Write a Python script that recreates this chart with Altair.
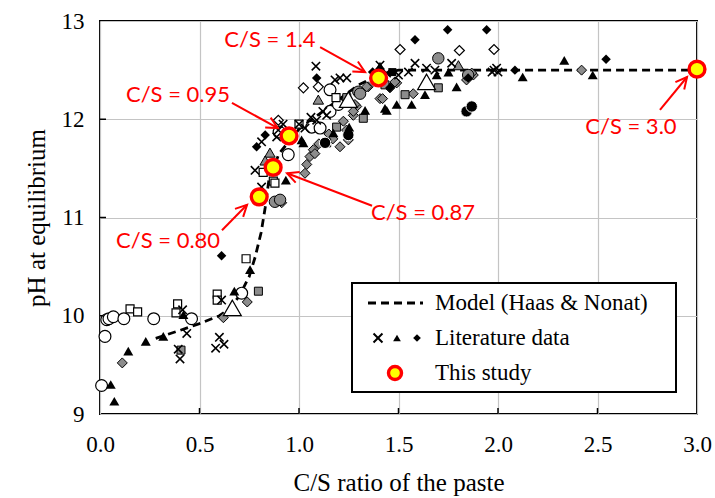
import math
import altair as alt
import pandas as pd

W, H = 597, 393

# ---------------- data ----------------
model_x = [0.28, 0.40, 0.50, 0.60, 0.65, 0.70, 0.75, 0.78, 0.81, 0.83, 0.85, 0.90, 1.00, 1.10, 1.20, 1.30, 1.40, 1.50, 2.00, 3.00]
model_y = [9.77, 9.85, 9.92, 10.00, 10.07, 10.20, 10.40, 10.60, 10.85, 11.10, 11.40, 11.65, 11.90, 12.05, 12.20, 12.35, 12.45, 12.50, 12.50, 12.50]

cross_x = [0.436, 0.393, 0.402, 0.600, 0.581, 0.623, 0.415, 0.611, 0.779, 0.812, 0.812, 0.888, 0.896, 1.030, 1.089, 1.139, 1.085, 1.181, 1.206, 1.240, 1.407, 1.583, 1.641, 1.767, 1.550, 1.683, 1.980, 1.993, 2.000, 1.970, 0.920, 1.000, 1.060, 1.120, 1.440, 1.500]
cross_y = [9.82, 9.66, 9.56, 9.78, 9.67, 9.71, 10.06, 10.16, 11.48, 11.31, 11.77, 11.82, 11.89, 11.91, 11.99, 12.04, 12.54, 12.40, 12.42, 12.42, 12.55, 12.57, 12.52, 12.57, 12.48, 12.50, 12.50, 12.52, 12.48, 12.48, 11.95, 11.95, 12.02, 12.08, 12.47, 12.45]

tri_x = [0.054, 0.072, 0.142, 0.230, 0.318, 0.419, 0.675, 0.754, 0.934, 1.013, 1.022, 1.173, 1.252, 1.407, 1.432, 1.692, 1.792, 1.633, 1.566, 1.491, 1.441, 1.332, 1.751, 2.124, 2.333, 2.476]
tri_y = [9.30, 9.13, 9.64, 9.74, 9.79, 10.01, 10.25, 10.47, 11.38, 11.79, 11.76, 11.86, 11.92, 12.54, 12.11, 12.45, 12.33, 12.25, 12.15, 12.15, 12.09, 12.09, 12.48, 12.43, 12.60, 12.45]

bdia_x = [0.611, 0.787, 1.089, 1.583, 1.747, 1.457, 1.850, 1.943, 2.085, 2.543, 0.830, 1.370]
bdia_y = [10.61, 11.72, 12.42, 12.81, 12.91, 12.32, 12.42, 12.91, 12.50, 12.61, 11.84, 12.48]

odia_x = [1.022, 1.097, 0.896, 1.508, 1.806, 1.980]
odia_y = [12.32, 12.33, 11.99, 12.71, 12.70, 12.71]

gdia_x = [0.112, 0.620, 0.740, 0.888, 0.913, 1.030, 1.039, 1.055, 1.072, 1.080, 1.223, 1.239, 1.273, 1.290, 1.206, 1.248, 1.491, 1.457, 1.574, 1.348, 1.407, 1.281, 1.273, 1.876, 1.842, 1.868, 2.420, 1.482, 1.420, 1.340, 1.150, 1.170, 1.100]
gdia_y = [9.52, 9.98, 10.14, 11.16, 11.15, 11.45, 11.54, 11.62, 11.69, 11.65, 11.98, 11.89, 12.04, 12.13, 11.72, 11.79, 12.37, 12.32, 12.26, 12.33, 12.21, 12.15, 12.08, 12.45, 12.40, 12.47, 12.50, 12.38, 12.21, 12.33, 11.85, 11.80, 11.75]

gcir_x = [1.298, 1.700, 1.307, 0.879, 0.905, 1.850]
gcir_y = [12.28, 12.62, 12.26, 11.16, 11.18, 12.45]

bcir_x = [1.131, 1.248, 1.842, 1.868]
bcir_y = [11.76, 11.84, 12.08, 12.13]

ocir_x = [0.008, 0.025, 0.034, 0.045, 0.067, 0.120, 0.270, 0.460, 0.712, 0.946, 1.156, 1.198, 1.064, 1.106, 1.156, 0.900]
ocir_y = [9.29, 9.79, 9.96, 9.97, 9.99, 9.97, 9.97, 9.97, 10.23, 11.64, 12.08, 12.15, 11.92, 11.91, 12.30, 11.87]

osq_x = [0.151, 0.189, 0.390, 0.382, 0.589, 0.589, 0.734, 0.871, 0.879, 0.820, 1.186, 1.000]
osq_y = [10.07, 10.04, 10.12, 10.03, 10.22, 10.16, 10.58, 11.37, 11.35, 11.46, 12.22, 11.95]

gsq_x = [0.407, 0.796, 1.189, 1.139, 1.700, 1.533, 1.323, 1.432, 1.240]
gsq_y = [9.65, 10.25, 11.92, 11.76, 12.32, 12.25, 12.01, 12.35, 12.22]

bsq_x = [1.469]
bsq_y = [12.48]

gtri_x = [1.097, 0.854, 1.801, 0.830]
gtri_y = [12.20, 11.66, 12.55, 11.58]

otri_x = [0.665, 1.641, 1.248]
otri_y = [10.08, 12.38, 12.20]

study_x = [0.80, 0.87, 0.95, 1.40, 3.00]
study_y = [11.21, 11.51, 11.83, 12.42, 12.51]

ann_text = ["C/S = 0.80", "C/S = 0.87", "C/S = 0.95", "C/S = 1.4", "C/S = 3.0"]
ann_tx = [0.342, 1.623, 0.392, 0.854, 2.668]
ann_ty = [10.76, 11.05, 12.25, 12.81, 11.92]
arr_x0 = [0.613, 1.367, 0.663, 1.106, 2.814]
arr_y0 = [10.87, 11.12, 12.166, 12.735, 12.095]
arr_x1 = [0.739, 0.940, 0.894, 1.332, 2.950]
arr_y1 = [11.13, 11.45, 11.91, 12.48, 12.43]

x_ticks = [0.0, 0.5, 1.0, 1.5, 2.0, 2.5, 3.0]
y_ticks = [9, 10, 11, 12, 13]

legend_labels = ["Model (Haas & Nonat)", "Literature data", "This study"]

# ---------------- scales ----------------
xs = alt.Scale(domain=[0, 3], nice=False, zero=False)
ys = alt.Scale(domain=[9, 13], nice=False, zero=False)

X = lambda: alt.X("x:Q", scale=xs, axis=alt.Axis(values=x_ticks, format=".1f", title="C/S ratio of the paste"))
Y = lambda: alt.Y("y:Q", scale=ys, axis=alt.Axis(values=y_ticks, format="d", title="pH at equilibrium"))

layers = []

# inner ticks
tick_df_x = pd.DataFrame({"x": x_ticks[1:-1]})
tick_df_y = pd.DataFrame({"y": y_ticks[1:-1]})
layers.append(alt.Chart(tick_df_x).mark_rule(color="black", strokeWidth=1.5).encode(
    x=alt.X("x:Q", scale=xs), y=alt.value(H), y2=alt.value(H - 6)))
layers.append(alt.Chart(tick_df_y).mark_rule(color="black", strokeWidth=1.5).encode(
    y=alt.Y("y:Q", scale=ys), x=alt.value(0), x2=alt.value(6)))

# model line
model_df = pd.DataFrame({"x": model_x, "y": model_y})
layers.append(alt.Chart(model_df).mark_line(color="black", strokeWidth=2.8, strokeDash=[8, 5]).encode(x=X(), y=Y()))

CROSS = "M-1,-1L1,1M-1,1L1,-1"

styles = [
    (gdia_x, gdia_y, dict(shape="diamond", filled=True, fill="#8c8c8c", stroke="black", strokeWidth=1, size=100, opacity=1)),
    (gsq_x, gsq_y, dict(shape="square", filled=True, fill="#8c8c8c", stroke="black", strokeWidth=1, size=64, opacity=1)),
    (gcir_x, gcir_y, dict(shape="circle", filled=True, fill="#8c8c8c", stroke="black", strokeWidth=1, size=130, opacity=1)),
    (ocir_x, ocir_y, dict(shape="circle", filled=True, fill="white", stroke="black", strokeWidth=1.2, size=140, opacity=1)),
    (osq_x, osq_y, dict(shape="square", filled=True, fill="white", stroke="black", strokeWidth=1.2, size=64, opacity=1)),
    (odia_x, odia_y, dict(shape="diamond", filled=True, fill="white", stroke="black", strokeWidth=1.2, size=100, opacity=1)),
    (otri_x, otri_y, dict(shape="triangle-up", filled=True, fill="white", stroke="black", strokeWidth=1.2, size=320, opacity=1)),
    (gtri_x, gtri_y, dict(shape="triangle-up", filled=True, fill="#8c8c8c", stroke="black", strokeWidth=1, size=110, opacity=1)),
    (bcir_x, bcir_y, dict(shape="circle", filled=True, fill="black", stroke="white", strokeWidth=1, size=130, opacity=1)),
    (bsq_x, bsq_y, dict(shape="square", filled=True, fill="black", stroke="black", strokeWidth=0, size=64, opacity=1)),
    (bdia_x, bdia_y, dict(shape="diamond", filled=True, fill="black", stroke="black", strokeWidth=0, size=90, opacity=1)),
    (tri_x, tri_y, dict(shape="triangle-up", filled=True, fill="black", stroke="black", strokeWidth=0, size=100, opacity=1)),
    (cross_x, cross_y, dict(shape=CROSS, filled=False, stroke="black", strokeWidth=1.6, size=70, opacity=1)),
]
for sx, sy, st in styles:
    df = pd.DataFrame({"x": sx, "y": sy})
    layers.append(alt.Chart(df).mark_point(**st).encode(x=X(), y=Y()))

# arrows
ang = []
for a, b, c, d in zip(arr_x0, arr_y0, arr_x1, arr_y1):
    dx = (c - a) * W / 3.0
    dy = -(d - b) * H / 4.0
    ang.append(math.degrees(math.atan2(dy, dx)) % 360)
arr_df = pd.DataFrame({"x": arr_x0, "y": arr_y0, "x2": arr_x1, "y2": arr_y1, "ang": ang})
layers.append(alt.Chart(arr_df).mark_rule(color="#ff0000", strokeWidth=2).encode(
    x=X(), y=Y(), x2="x2:Q", y2="y2:Q"))
layers.append(alt.Chart(arr_df).mark_point(shape="M-1,-0.5L0,0L-1,0.5", filled=False, stroke="#ff0000",
                                           strokeWidth=2, size=520, opacity=1, strokeJoin="miter").encode(
    x=alt.X("x2:Q", scale=xs), y=alt.Y("y2:Q", scale=ys), angle=alt.Angle("ang:Q", scale=None)))

# this study
study_df = pd.DataFrame({"x": study_x, "y": study_y})
layers.append(alt.Chart(study_df).mark_point(shape="circle", filled=True, fill="#ffff00", stroke="#ff0000",
                                             strokeWidth=3.4, size=250, opacity=1).encode(x=X(), y=Y()))

# annotation text
ann_df = pd.DataFrame({"x": ann_tx, "y": ann_ty, "t": ann_text})
layers.append(alt.Chart(ann_df).mark_text(font="Lato", fontSize=22, color="#ff0000", align="center",
                                          baseline="middle").encode(x=X(), y=Y(), text="t:N"))

# legend
one = pd.DataFrame({"k": [0]})
layers.append(alt.Chart(one).mark_rect(fill="white", stroke="black", strokeWidth=2).encode(
    x=alt.value(252), x2=alt.value(576), y=alt.value(262), y2=alt.value(371)))
layers.append(alt.Chart(one).mark_rule(color="black", strokeWidth=2.8, strokeDash=[8, 5]).encode(
    x=alt.value(268), x2=alt.value(323), y=alt.value(282)))
layers.append(alt.Chart(one).mark_point(shape=CROSS, filled=False, stroke="black", strokeWidth=2, size=80, opacity=1).encode(
    x=alt.value(278), y=alt.value(317)))
layers.append(alt.Chart(one).mark_point(shape="triangle-up", filled=True, color="black", size=60, opacity=1).encode(
    x=alt.value(297), y=alt.value(317)))
layers.append(alt.Chart(one).mark_point(shape="diamond", filled=True, color="black", size=60, opacity=1).encode(
    x=alt.value(317), y=alt.value(317)))
layers.append(alt.Chart(one).mark_point(shape="circle", filled=True, fill="#ffff00", stroke="#ff0000",
                                        strokeWidth=3.4, size=170, opacity=1).encode(
    x=alt.value(295), y=alt.value(352)))
for i, lab in enumerate(legend_labels):
    layers.append(alt.Chart(pd.DataFrame({"t": [lab]})).mark_text(
        font="Liberation Serif", fontSize=23, color="black", align="left", baseline="middle").encode(
        x=alt.value(335), y=alt.value(282 + 35 * i), text="t:N"))

chart = alt.layer(*layers).properties(
    width=W, height=H,
    padding={"left": 100, "top": 21, "right": 18, "bottom": 84},
    autosize=alt.AutoSizeParams(type="none"),
).configure_view(stroke="black", strokeWidth=2).configure_axis(
    domain=False, ticks=False, grid=True, gridColor="#c4c4c4", gridWidth=1.2,
    labelFont="Liberation Serif", labelFontSize=23, labelColor="black", labelFlush=False,
    titleFont="Liberation Serif", titleFontSize=25, titleColor="black", titleFontWeight="normal",
).configure_axisX(labelPadding=19, titlePadding=14).configure_axisY(labelPadding=16, titlePadding=12)

chart.save("out.html", embed_options={"renderer": "svg", "actions": False})
